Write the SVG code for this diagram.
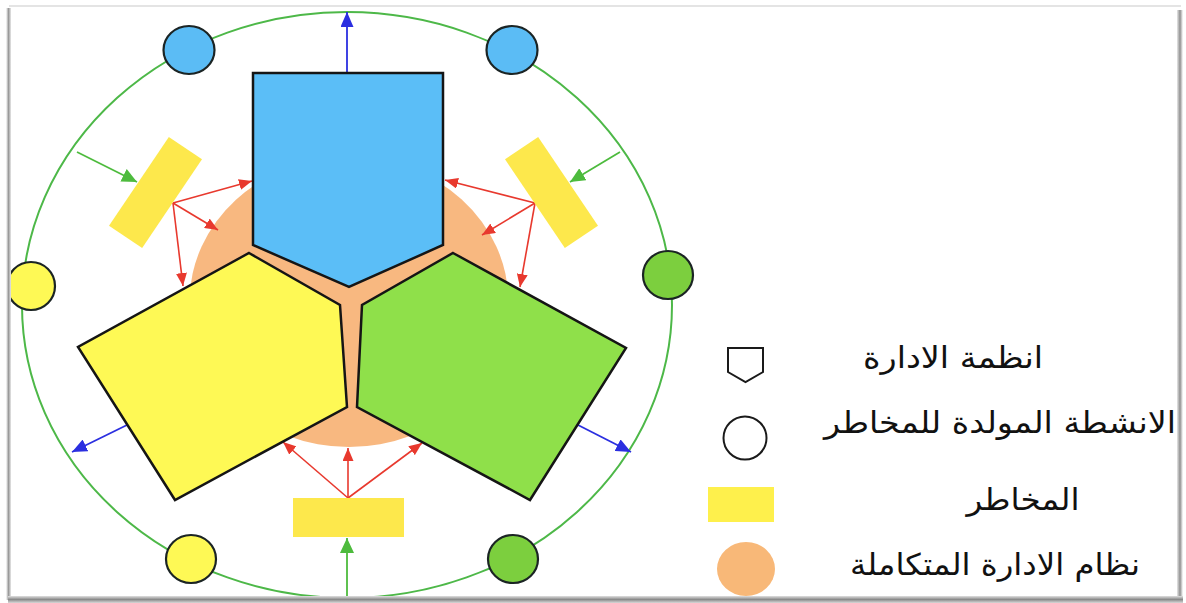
<svg xmlns="http://www.w3.org/2000/svg" width="1186" height="603" viewBox="0 0 1186 603">
<style>
.pent{stroke:#151515;stroke-width:2.5;stroke-linejoin:miter}
.act{stroke:#1b2424;stroke-width:2.2}
.risk{fill:#fde84c}
.red{stroke:#e8392e;stroke-width:1.6;fill:none;marker-end:url(#mr)}
.grn{stroke:#4dbb3d;stroke-width:1.8;fill:none;marker-end:url(#mg)}
.blu{stroke:#2b2fe0;stroke-width:1.8;fill:none;marker-end:url(#mb)}
.lbl{font-family:"DejaVu Sans","Noto Sans",sans-serif;font-size:30px;fill:#111;text-anchor:middle}
</style>
<defs>
<marker id="mr" markerUnits="userSpaceOnUse" markerWidth="13" markerHeight="11" refX="13" refY="5.5" orient="auto"><path d="M0,0 L13,5.5 L0,11 z" fill="#e8392e"/></marker>
<marker id="mg" markerUnits="userSpaceOnUse" markerWidth="15" markerHeight="14" refX="15" refY="7" orient="auto"><path d="M0,0 L15,7 L0,14 z" fill="#4dbb3d"/></marker>
<marker id="mb" markerUnits="userSpaceOnUse" markerWidth="15" markerHeight="13" refX="15" refY="6.5" orient="auto"><path d="M0,0 L15,6.5 L0,13 z" fill="#2b2fe0"/></marker>
<clipPath id="frame"><rect x="9" y="7" width="1170" height="590"/></clipPath>
<linearGradient id="sl" x1="0" x2="1" y1="0" y2="0"><stop offset="0" stop-color="#fff"/><stop offset="0.5" stop-color="#9a9a9a"/><stop offset="1" stop-color="#e8e8e8"/></linearGradient>
<linearGradient id="sr" x1="0" x2="1" y1="0" y2="0"><stop offset="0" stop-color="#e8e8e8"/><stop offset="0.5" stop-color="#8f8f8f"/><stop offset="1" stop-color="#fff"/></linearGradient>
<linearGradient id="sb" x1="0" x2="0" y1="0" y2="1"><stop offset="0" stop-color="#e0e0e0"/><stop offset="0.5" stop-color="#8a8a8a"/><stop offset="1" stop-color="#d8d8d8"/></linearGradient>
</defs>
<rect width="1186" height="603" fill="#fff"/>
<g clip-path="url(#frame)">
<g id="boundary"><ellipse cx="347" cy="305" rx="325" ry="293" fill="none" stroke="#4db848" stroke-width="2"/></g>
<g id="core"><ellipse cx="349" cy="302" rx="159.5" ry="145" fill="#f8b880"/></g>
<g id="connectors">
<line class="blu" x1="347" y1="73" x2="347" y2="12"/>
<line class="blu" x1="127" y1="425" x2="72" y2="452"/>
<line class="blu" x1="578" y1="425" x2="631" y2="452"/>
<line class="grn" x1="77" y1="152" x2="137" y2="182"/>
<line class="grn" x1="620" y1="152" x2="570" y2="182"/>
<line class="grn" x1="347" y1="598" x2="347" y2="538"/>
<line class="red" x1="173" y1="203" x2="252" y2="181"/>
<line class="red" x1="173" y1="203" x2="218" y2="230"/>
<line class="red" x1="173" y1="203" x2="183" y2="286"/>
<line class="red" x1="535" y1="203" x2="445" y2="180"/>
<line class="red" x1="535" y1="203" x2="482" y2="235"/>
<line class="red" x1="535" y1="203" x2="520" y2="287"/>
<line class="red" x1="348" y1="498" x2="283" y2="442"/>
<line class="red" x1="348" y1="498" x2="348" y2="448"/>
<line class="red" x1="348" y1="498" x2="422" y2="443"/>
</g>
<g id="management-blue"><path class="pent" d="M253,73 L443,73 L443,245 L349,287 L253,245 Z" fill="#5bbef7"/></g>
<g id="management-yellow"><path class="pent" d="M249,253 L340,305 L347,407 L175,500 L78,347 Z" fill="#fef955"/></g>
<g id="management-green"><path class="pent" d="M453,253 L626,348 L530,500 L357,407 L362,305 Z" fill="#8fe04a"/></g>
<g id="risk-left"><rect class="risk" x="-20" y="-53.5" width="40" height="107" transform="translate(155.5,192.5) rotate(34)"/></g>
<g id="risk-right"><rect class="risk" x="-20" y="-53.5" width="40" height="107" transform="translate(551.5,192.5) rotate(-34)"/></g>
<g id="risk-bottom"><rect class="risk" x="293" y="498" width="111" height="39"/></g>
<g id="activity-top-left"><ellipse class="act" cx="189" cy="50" rx="25.5" ry="24" fill="#5bbcf5"/></g>
<g id="activity-top-right"><ellipse class="act" cx="512" cy="50" rx="25.5" ry="24" fill="#5bbcf5"/></g>
<g id="activity-left"><ellipse class="act" cx="31" cy="286" rx="24" ry="24" fill="#fef955"/></g>
<g id="activity-right"><ellipse class="act" cx="668" cy="275" rx="25" ry="24" fill="#7ccf3e"/></g>
<g id="activity-bottom-left"><ellipse class="act" cx="191" cy="559" rx="25" ry="24" fill="#fef955"/></g>
<g id="activity-bottom-right"><ellipse class="act" cx="513" cy="559" rx="25" ry="24" fill="#7ccf3e"/></g>
</g>
<g id="legend">
<path d="M728,348 L763,348 L763,372 L745.5,382 L728,372 Z" fill="#fff" stroke="#1a1a1a" stroke-width="2"/>
<circle cx="745" cy="438" r="21.5" fill="#fff" stroke="#1a1a1a" stroke-width="2"/>
<rect x="708" y="487" width="66" height="35" fill="#fef04c"/>
<ellipse cx="746" cy="569" rx="29" ry="27" fill="#f8b878"/>
<text class="lbl" x="953" y="368" textLength="180" lengthAdjust="spacingAndGlyphs">انظمة الادارة</text>
<text class="lbl" x="1000" y="433" textLength="352" lengthAdjust="spacingAndGlyphs">الانشطة المولدة للمخاطر</text>
<text class="lbl" x="1023" y="510" textLength="113" lengthAdjust="spacingAndGlyphs">المخاطر</text>
<text class="lbl" x="995" y="575" textLength="290" lengthAdjust="spacingAndGlyphs">نظام الادارة المتكاملة</text>
</g>
<g id="frame-shadow">
<rect x="9" y="5" width="1172" height="2" fill="#e4e4e4"/>
<rect x="6" y="8" width="5" height="592" fill="url(#sl)"/>
<rect x="1177" y="10" width="6" height="590" fill="url(#sr)"/>
<rect x="8" y="596" width="1175" height="7" fill="url(#sb)"/>
</g>
</svg>
